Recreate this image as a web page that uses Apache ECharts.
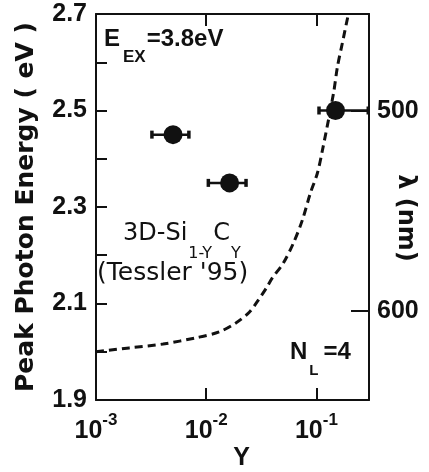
<!DOCTYPE html>
<html><head><meta charset="utf-8">
<script src="https://cdn.jsdelivr.net/npm/echarts@6/dist/echarts.min.js"></script>
<style>html,body{margin:0;padding:0;background:#fff}#c{width:429px;height:472px}</style>
</head><body><div id="c"></div>
<script>
// ---- data ----
const energyRange = [1.9, 2.7];          // left axis, eV
const energyStep = 0.1;
const yFracRange = [0.001, 0.3];         // bottom axis, log
const wavelengthRange = [451.5, 644.5];  // right axis, nm (top -> bottom)
const wavelengthTicks = [500, 600];

const pointYFrac = [0.005, 0.0163, 0.149];
const pointEnergy = [2.45, 2.35, 2.50];
const pointErrLow = [0.0032, 0.0104, 0.105];
const pointErrHigh = [0.0070, 0.0231, 0.297];

const curveYFrac = [0.001, 0.002, 0.00406, 0.0081, 0.0131, 0.0187, 0.0246, 0.0297, 0.0351, 0.0398, 0.0501, 0.0618, 0.0746, 0.0882, 0.102, 0.1135, 0.143, 0.155, 0.172, 0.195];
const curveEnergy = [2.000, 2.008, 2.016, 2.029, 2.041, 2.060, 2.082, 2.107, 2.132, 2.153, 2.184, 2.225, 2.273, 2.329, 2.370, 2.418, 2.536, 2.590, 2.640, 2.700];

// ---- build ----
const INK = '#111';
const ARIAL = '"Liberation Sans", Arial, sans-serif';
const DEJAVU = '"DejaVu Sans", sans-serif';

const curveData = curveYFrac.map((x, i) => [x, curveEnergy[i]]);
const pointData = pointYFrac.map((x, i) => [x, pointEnergy[i]]);
const errData = pointYFrac.map((x, i) => [pointErrLow[i], pointErrHigh[i], pointEnergy[i]]);

function logLabel(v) {
  const e = Math.log10(v);
  const r = Math.round(e);
  if (Math.abs(e - r) > 1e-6) return '';
  return '{b|10}{s|' + r + '}';
}
function energyLabel(v) {
  const t = Math.round(v * 10);
  return (t % 2 === 1) ? v.toFixed(1) : '';
}

const chart = echarts.init(document.getElementById('c'), null, {renderer: 'canvas'});
const axisLine = {show: true, onZero: false, lineStyle: {color: INK, width: 2}};

chart.setOption({
  animation: false,
  backgroundColor: '#fff',
  grid: {left: 96, right: 60, top: 14, bottom: 72, containLabel: false, outerBoundsMode: 'none'},
  xAxis: [{
    type: 'log', logBase: 10, min: yFracRange[0], max: yFracRange[1], position: 'bottom',
    axisLine: axisLine,
    axisTick: {show: true, inside: true, length: 12, lineStyle: {color: INK, width: 2}},
    splitLine: {show: false}, minorTick: {show: false},
    axisLabel: {
      margin: 12, formatter: logLabel, color: INK, showMaxLabel: false,
      rich: {
        b: {fontSize: 25, fontWeight: 'bold', fontFamily: ARIAL, color: INK, lineHeight: 25, padding: [7, 0, 0, 0], verticalAlign: 'top'},
        s: {fontSize: 17, fontWeight: 'bold', fontFamily: ARIAL, color: INK, lineHeight: 17, verticalAlign: 'top'}
      }
    },
    name: 'Y', nameLocation: 'middle', nameGap: 46, nameMoveOverlap: false,
    nameTextStyle: {fontSize: 25, fontWeight: 'bold', fontFamily: ARIAL, color: INK, padding: [0, 0, 0, 18]}
  }, {
    type: 'log', logBase: 10, min: yFracRange[0], max: yFracRange[1], position: 'top',
    axisLine: axisLine,
    axisTick: {show: true, inside: true, length: 12, lineStyle: {color: INK, width: 2}},
    axisLabel: {show: false}, splitLine: {show: false}, minorTick: {show: false}
  }],
  yAxis: [{
    type: 'value', min: energyRange[0], max: energyRange[1], interval: energyStep, position: 'left',
    axisLine: axisLine,
    axisTick: {show: true, inside: true, length: 11, lineStyle: {color: INK, width: 2}},
    splitLine: {show: false},
    axisLabel: {margin: 9, formatter: energyLabel,
      fontSize: 25, fontWeight: 'bold', fontFamily: ARIAL, color: INK},
    name: 'Peak Photon Energy ( eV )', nameLocation: 'middle', nameRotate: 90, nameGap: 57, nameMoveOverlap: false,
    nameTextStyle: {fontSize: 25, fontWeight: 'bold', fontFamily: DEJAVU, color: INK}
  }, {
    type: 'value', min: wavelengthRange[0], max: wavelengthRange[1], inverse: true, position: 'right',
    axisLine: axisLine,
    axisTick: {show: true, inside: true, length: 18, customValues: wavelengthTicks, lineStyle: {color: INK, width: 2}},
    splitLine: {show: false},
    axisLabel: {customValues: wavelengthTicks, margin: 8,
      fontSize: 25, fontWeight: 'bold', fontFamily: ARIAL, color: INK},
    name: 'λ (nm)', nameLocation: 'middle', nameRotate: -90, nameGap: 24, nameMoveOverlap: false,
    nameTextStyle: {fontSize: 24, fontWeight: 'bold', fontFamily: DEJAVU, color: INK, padding: [0, 0, 0, 22]}
  }],
  series: [{
    type: 'line', xAxisIndex: 0, yAxisIndex: 0, data: curveData, showSymbol: false, smooth: 0.3,
    lineStyle: {color: INK, width: 3, type: [8, 5]}, z: 2
  }, {
    type: 'custom', xAxisIndex: 0, yAxisIndex: 0, data: errData, z: 3,
    encode: {x: [0, 1], y: 2},
    renderItem: function (params, api) {
      const lo = api.coord([api.value(0), api.value(2)]);
      const hi = api.coord([api.value(1), api.value(2)]);
      return {type: 'group', children: [
        {type: 'line', shape: {x1: lo[0], y1: lo[1], x2: hi[0], y2: hi[1]}, style: {stroke: INK, lineWidth: 2.5}},
        {type: 'rect', shape: {x: lo[0] - 1.5, y: lo[1] - 4, width: 3.5, height: 8}, style: {fill: INK}},
        {type: 'rect', shape: {x: hi[0] - 2, y: hi[1] - 4, width: 3.5, height: 8}, style: {fill: INK}}
      ]};
    }
  }, {
    type: 'scatter', xAxisIndex: 0, yAxisIndex: 0, data: pointData, symbol: 'circle', symbolSize: 19,
    itemStyle: {color: INK, opacity: 1}, z: 4
  }],
  graphic: [{
    type: 'text', x: 104, y: 27, z: 10,
    style: {text: '{a|E}{s|EX}{a|=3.8eV}', fill: INK,
      rich: {
        a: {fontSize: 24, fontWeight: 'bold', fontFamily: ARIAL, fill: INK, lineHeight: 24, verticalAlign: 'top'},
        s: {fontSize: 17, fontWeight: 'bold', fontFamily: ARIAL, fill: INK, lineHeight: 17, padding: [22, 1, 0, 3], verticalAlign: 'top'}
      }}
  }, {
    type: 'text', x: 123, y: 222, z: 10,
    style: {text: '{a|3D-Si}{s|1-Y}{a|C}{s|Y}', fill: INK,
      rich: {
        a: {fontSize: 24, fontFamily: DEJAVU, fill: INK, lineHeight: 24, verticalAlign: 'top'},
        s: {fontSize: 16, fontFamily: DEJAVU, fill: INK, lineHeight: 16, padding: [24, 1, 0, 1], verticalAlign: 'top'}
      }}
  }, {
    type: 'text', x: 97, y: 261, z: 10,
    style: {text: "(Tessler '95)", fill: INK, font: '25px ' + DEJAVU}
  }, {
    type: 'text', x: 290, y: 340, z: 10,
    style: {text: '{a|N}{s|L}{a|=4}', fill: INK,
      rich: {
        a: {fontSize: 24, fontWeight: 'bold', fontFamily: ARIAL, fill: INK, lineHeight: 24, verticalAlign: 'top'},
        s: {fontSize: 15, fontWeight: 'bold', fontFamily: ARIAL, fill: INK, lineHeight: 15, padding: [23, 5, 0, 2], verticalAlign: 'top'}
      }}
  }]
});
</script></body></html>
